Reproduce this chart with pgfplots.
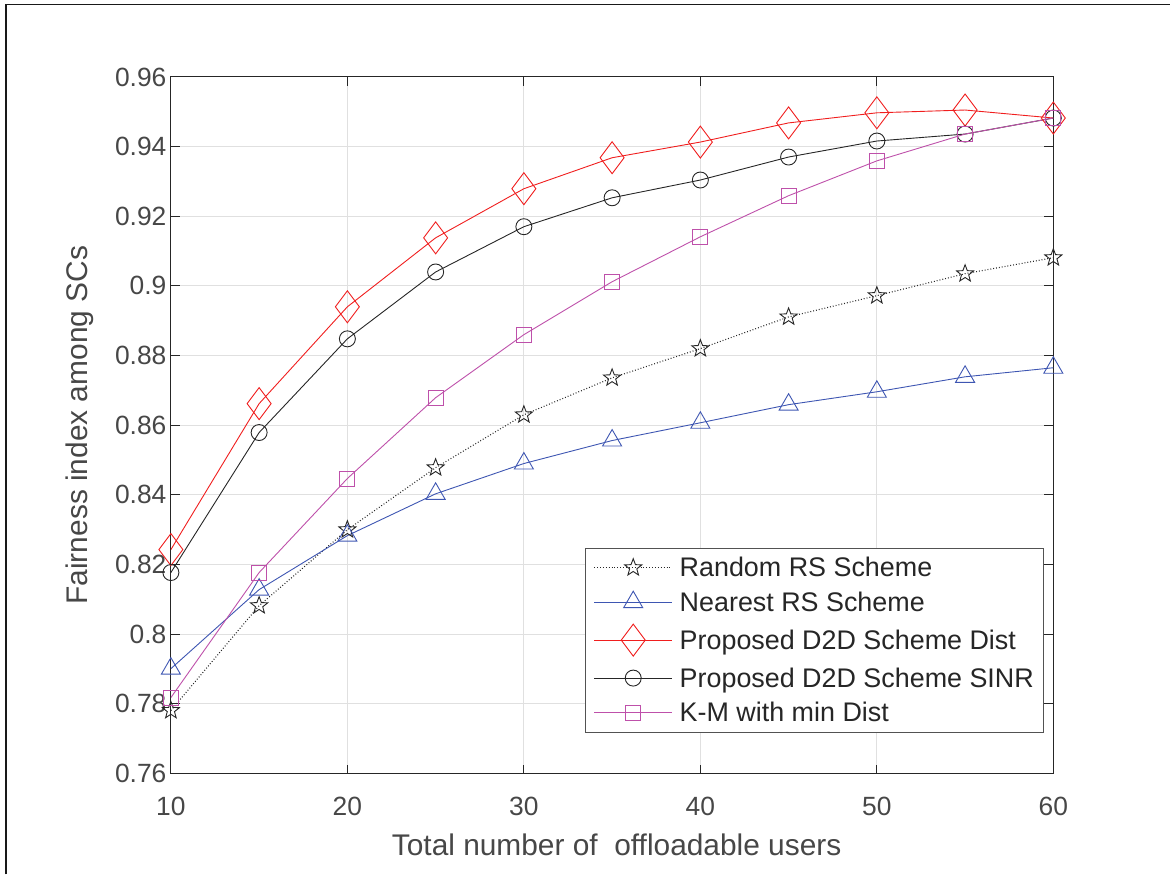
\documentclass[border=0pt]{standalone}
\usepackage{pgfplots}
\pgfplotsset{compat=1.18}
\usepackage{fontspec}
\setmainfont{Liberation Sans}
\definecolor{axgray}{rgb}{0.15,0.15,0.15}
\definecolor{gridgray}{rgb}{0.88,0.88,0.88}
\definecolor{nearblue}{RGB}{62,86,178}
\definecolor{kmmag}{RGB}{190,80,170}
\definecolor{propred}{RGB}{240,30,30}

% outlined five-pointed star
\pgfdeclareplotmark{ostar}{%
  \pgfpathmoveto{\pgfqpointpolar{90}{\pgfplotmarksize}}%
  \pgfpathlineto{\pgfqpointpolar{126}{0.42\pgfplotmarksize}}%
  \pgfpathlineto{\pgfqpointpolar{162}{\pgfplotmarksize}}%
  \pgfpathlineto{\pgfqpointpolar{198}{0.42\pgfplotmarksize}}%
  \pgfpathlineto{\pgfqpointpolar{234}{\pgfplotmarksize}}%
  \pgfpathlineto{\pgfqpointpolar{270}{0.42\pgfplotmarksize}}%
  \pgfpathlineto{\pgfqpointpolar{306}{\pgfplotmarksize}}%
  \pgfpathlineto{\pgfqpointpolar{342}{0.42\pgfplotmarksize}}%
  \pgfpathlineto{\pgfqpointpolar{18}{\pgfplotmarksize}}%
  \pgfpathlineto{\pgfqpointpolar{54}{0.42\pgfplotmarksize}}%
  \pgfpathclose
  \pgfusepathqstroke
}

\begin{document}
\begin{tikzpicture}[x=1bp,y=1bp]
% page extent and frame
\path (0,0) rectangle (1171,875);
\draw[line width=1.5bp,black!90] (6,0) -- (6,870.5) -- (1171,870.5);
\begin{axis}[
  at={(171bp,101bp)}, anchor=south west,
  scale only axis, width=883bp, height=697bp,
  xmin=10, xmax=60, ymin=0.76, ymax=0.96,
  xtick={10,20,...,60},
  ytick={0.76,0.78,...,0.961},
  yticklabels={0.76,0.78,0.8,0.82,0.84,0.86,0.88,0.9,0.92,0.94,0.96},
  grid=major,
  major grid style={gridgray, line width=1bp},
  axis line style={axgray, line width=1bp},
  tick style={axgray, line width=1bp},
  major tick length=9bp,
  tick align=inside,
  xtick pos=both, ytick pos=both,
  ticklabel style={font=\fontsize{26.5}{30}\selectfont, text=axgray!85},
  /pgf/number format/assume math mode=true,
  xticklabel style={yshift=-20bp},
  yticklabel style={xshift=-1bp},
  xlabel={Total number of\hspace{0.278em} offloadable users},
  ylabel={Fairness index among SCs},
  label style={font=\fontsize{30}{34}\selectfont, text=axgray!85},
  xlabel style={at={(axis description cs:0.5051,-0.1019)}, anchor=center},
  ylabel style={at={(axis description cs:-0.1030,0.5)}, anchor=center},
  legend style={
    at={(axis description cs:0.9898,0.0588)}, anchor=south east,
    draw=axgray!80, line width=1bp,
    font=\fontsize{27}{31}\selectfont, text=black!85,
    inner xsep=8bp, inner ysep=7bp,
    row sep=9.5bp,
    nodes={inner sep=2bp},
    /tikz/every odd column/.append style={column sep=5bp},
  },
  legend cell align=left,
  legend image code/.code={
    \draw[mark repeat=2, mark phase=2] plot coordinates {(0bp,0bp) (39bp,0bp) (78bp,0bp)};
  },
  every axis plot/.append style={line width=0.9bp},
]
% Random RS Scheme
\addplot[black!85, dotted, line width=1.1bp, mark=ostar, mark size=9bp, mark options={solid, line width=0.9bp}]
coordinates {(10,0.7781) (15,0.8082) (20,0.8300) (25,0.8478) (30,0.8630) (35,0.8736)
 (40,0.8820) (45,0.8911) (50,0.8972) (55,0.9035) (60,0.9081)};
\addlegendentry{Random RS Scheme}
% Nearest RS Scheme
\addplot[nearblue, mark=triangle, mark size=11bp, mark options={solid}]
coordinates {(10,0.7901) (15,0.8128) (20,0.8283) (25,0.8403) (30,0.8490) (35,0.8556)
 (40,0.8607) (45,0.8659) (50,0.8696) (55,0.8739) (60,0.8765)};
\addlegendentry{Nearest RS Scheme}
% Proposed D2D Scheme, distance based
\addplot[propred, mark=diamond, mark size=16bp, mark options={solid}]
coordinates {(10,0.8243) (15,0.8662) (20,0.8940) (25,0.9138) (30,0.9279) (35,0.9368)
 (40,0.9413) (45,0.9468) (50,0.9497) (55,0.9505) (60,0.9482)};
\addlegendentry{Proposed D2D Scheme Dist}
% Proposed D2D Scheme, SINR based
\addplot[black!85, mark=o, mark size=8bp, mark options={solid}]
coordinates {(10,0.8177) (15,0.8579) (20,0.8848) (25,0.9040) (30,0.9170) (35,0.9253)
 (40,0.9304) (45,0.9370) (50,0.9416) (55,0.9436) (60,0.9482)};
\addlegendentry{Proposed D2D Scheme SINR}
% K-means with minimum distance
\addplot[kmmag, mark=square, mark size=7.5bp, mark options={solid}]
coordinates {(10,0.7818) (15,0.8177) (20,0.8447) (25,0.8679) (30,0.8860) (35,0.9012)
 (40,0.9141) (45,0.9259) (50,0.9359) (55,0.9436) (60,0.9482)};
\addlegendentry{K-M with min Dist}
\end{axis}
\end{tikzpicture}
\end{document}
